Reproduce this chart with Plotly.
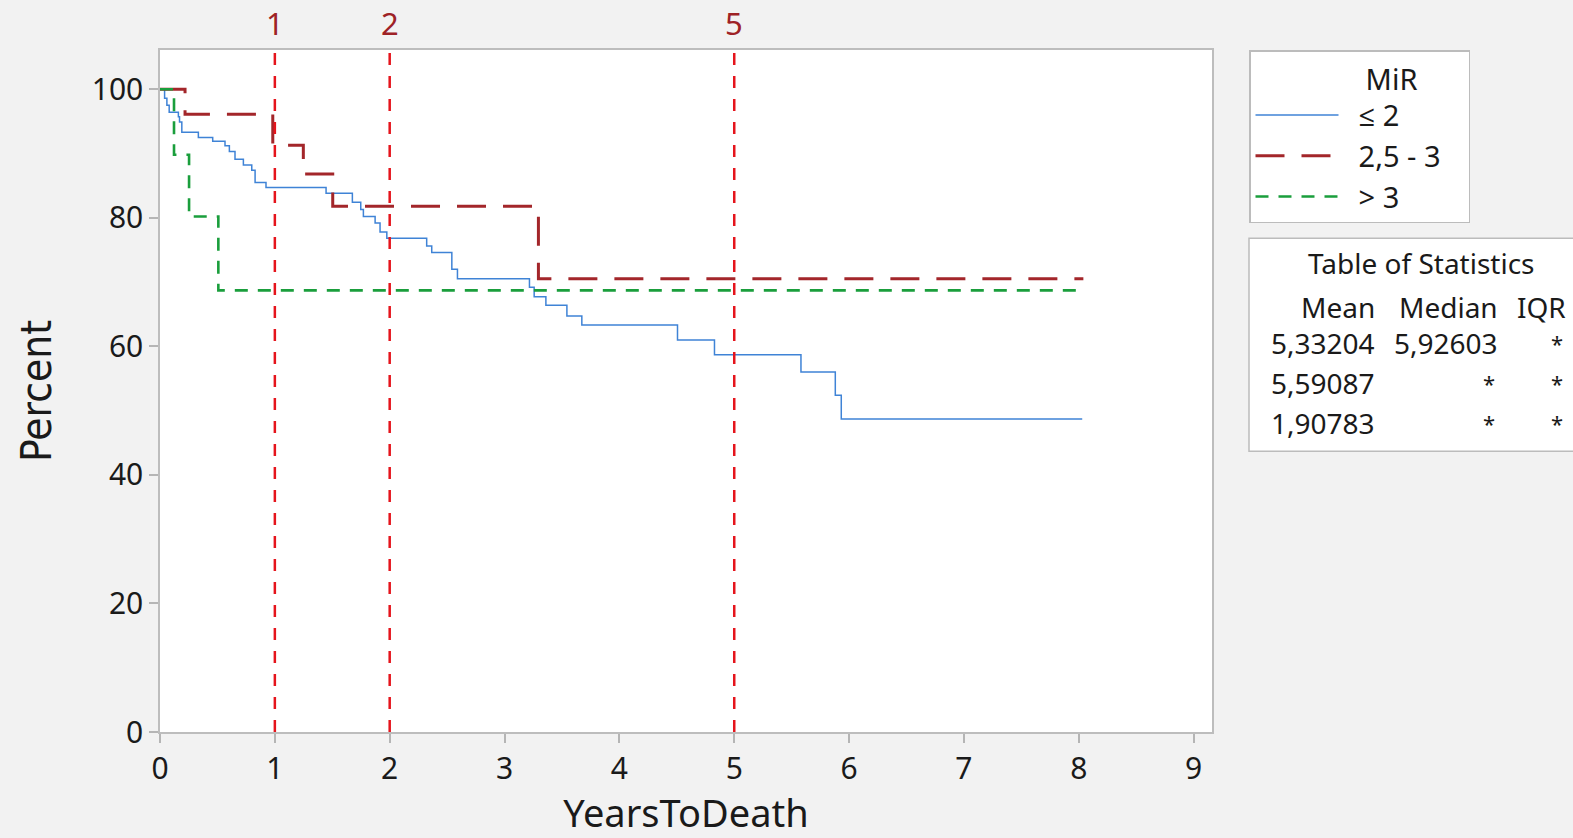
import plotly.graph_objects as go

# ---------------- data ----------------
blue_name = "≤ 2"
blue_t = [0.0, 0.04, 0.06, 0.08, 0.16, 0.17, 0.19, 0.334, 0.459, 0.566, 0.604, 0.653, 0.726,
          0.799, 0.828, 0.923, 1.446, 1.675, 1.748, 1.771, 1.873, 1.916, 1.975, 2.322, 2.366,
          2.541, 2.590, 3.217, 3.258, 3.360, 3.543, 3.673, 4.506, 4.828, 5.581, 5.880, 5.932, 8.03]
blue_s = [100.0, 98.6, 97.5, 96.4, 95.7, 94.9, 93.3, 92.5, 91.9, 91.2, 90.3, 89.1, 88.2,
          87.4, 85.5, 84.7, 83.8, 82.4, 81.3, 80.2, 79.2, 77.8, 76.8, 75.6, 74.6,
          72.0, 70.5, 69.2, 67.7, 66.4, 64.7, 63.3, 61.0, 58.7, 56.0, 52.4, 48.7, 48.7]

red_name = "2,5 - 3"
red_t = [0.0, 0.218, 0.982, 1.248, 1.504, 3.295, 8.04]
red_s = [100.0, 96.1, 91.3, 86.8, 81.8, 70.5, 70.5]

green_name = "> 3"
green_t = [0.0, 0.122, 0.253, 0.508, 8.03]
green_s = [100.0, 89.8, 80.2, 68.7, 68.7]

vline_x = [1, 2, 5]
vline_labels = ["1", "2", "5"]

x_ticks = [0, 1, 2, 3, 4, 5, 6, 7, 8, 9]
y_ticks = [0, 20, 40, 60, 80, 100]

stats_title = "Table of Statistics"
stats_header = ["Mean", "Median", "IQR"]
stats_rows = [["5,33204", "5,92603", "*"],
              ["5,59087", "*", "*"],
              ["1,90783", "*", "*"]]

legend_title = "MiR"

# ---------------- styling / layout ----------------
W, H = 1573, 838
L, R, T, B = 160, 1212, 50, 732.5
FONT = "Noto Sans, Open Sans, sans-serif"
TXT = "#1a1a1a"
GAP = "\u00a0\u00a0"  # visual gap between legend sample and its label
PAD = "\u00a0\u00a0\u00a0"  # widen legend box to the reference width


def px(X, Y):
    return (X - L) / (R - L), (B - Y) / (B - T)


fig = go.Figure()
fig.add_trace(go.Scatter(x=blue_t, y=blue_s, mode="lines", line_shape="hv", name=GAP + blue_name,
                         line=dict(color="#3f83d6", width=1.5)))
fig.add_trace(go.Scatter(x=red_t, y=red_s, mode="lines", line_shape="hv",
                         name=GAP + red_name + PAD,
                         line=dict(color="#a3262a", width=3, dash="29px,17px")))
fig.add_trace(go.Scatter(x=green_t, y=green_s, mode="lines", line_shape="hv", name=GAP + green_name,
                         line=dict(color="#1a9e3c", width=2.6, dash="13px,10px")))

shapes = []
annotations = []
for xv, lab in zip(vline_x, vline_labels):
    shapes.append(dict(type="line", xref="x", yref="paper", x0=xv, x1=xv, y0=0, y1=1,
                       line=dict(color="#e5141c", width=2.5, dash="12px,11px"), layer="above"))
    annotations.append(dict(xref="x", yref="paper", x=xv, y=px(0, 23)[1], text=lab,
                            showarrow=False, xanchor="center", yanchor="middle",
                            font=dict(family=FONT, size=31, color="#9e2226")))

# statistics box
bx0, by0 = px(1249, 238.5)
bx1, by1 = px(1600, 451.5)
shapes.append(dict(type="rect", xref="paper", yref="paper", x0=bx0, x1=bx1, y0=by1, y1=by0,
                   fillcolor="white", line=dict(color="#bcbcbc", width=1.5), layer="below"))
tx, ty = px(1421, 263)
annotations.append(dict(xref="paper", yref="paper", x=tx, y=ty, text=stats_title, showarrow=False,
                        xanchor="center", yanchor="middle",
                        font=dict(family=FONT, size=28, color=TXT)))
col_right = [1377, 1500, 1568]
row_y = [307, 343, 383, 423]
for j, h in enumerate(stats_header):
    ax, ay = px(col_right[j], row_y[0])
    annotations.append(dict(xref="paper", yref="paper", x=ax, y=ay, text=h, showarrow=False,
                            xanchor="right", yanchor="middle",
                            font=dict(family=FONT, size=28, color=TXT)))
for i, row in enumerate(stats_rows):
    for j, v in enumerate(row):
        ax, ay = px(col_right[j] - (3 if v == "*" else 0), row_y[i + 1])
        annotations.append(dict(xref="paper", yref="paper", x=ax, y=ay, text=v, showarrow=False,
                                xanchor="right", yanchor="middle",
                                font=dict(family=FONT, size=28 if v != "*" else 22, color=TXT)))

lx, ly = px(1249, 50.5)
axis_common = dict(showgrid=False, zeroline=False, showline=True, mirror=True,
                   linecolor="#bdbdbd", linewidth=1.5, ticks="outside", ticklen=9,
                   tickcolor="#b5b5b5", tickwidth=1.5,
                   tickfont=dict(family=FONT, size=30, color=TXT))

fig.update_layout(
    width=W, height=H,
    margin=dict(l=L, r=W - R, t=T, b=H - B, pad=0, autoexpand=False),
    paper_bgcolor="#f2f2f2", plot_bgcolor="white",
    xaxis=dict(range=[0, 9.16], tickvals=x_ticks, ticktext=[str(v) for v in x_ticks],
               title=dict(text="YearsToDeath", standoff=26,
                          font=dict(family=FONT, size=38, color=TXT)),
               **axis_common),
    yaxis=dict(range=[0, 106.1], tickvals=y_ticks, ticktext=[str(v) for v in y_ticks],
               title=dict(text="Percent", standoff=27,
                          font=dict(family="Liberation Sans Narrow, DejaVu Sans Condensed, sans-serif",
                                    size=42, color=TXT)),
               **axis_common),
    legend=dict(x=lx, y=ly, xanchor="left", yanchor="top", bgcolor="white",
                bordercolor="#bcbcbc", borderwidth=1.5, itemwidth=83,
                font=dict(family=FONT, size=29, color=TXT),
                title=dict(text="\u00a0" * 15 + legend_title, side="top",
                           font=dict(family=FONT, size=29, color=TXT))),
    shapes=shapes, annotations=annotations, showlegend=True,
)

fig.write_html("out.html", config={"displayModeBar": False},
               post_script="document.body.style.margin='0';document.body.style.overflow='hidden';")
